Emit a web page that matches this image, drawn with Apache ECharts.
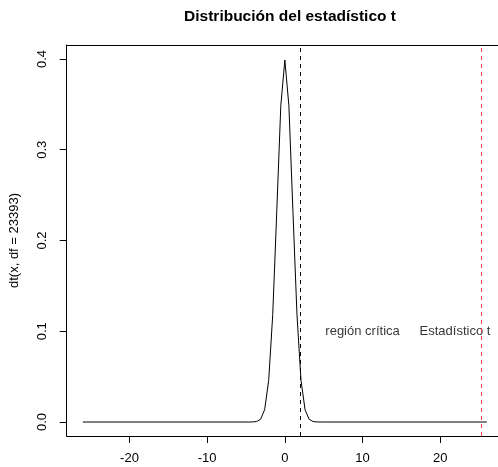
<!DOCTYPE html>
<html><head><meta charset="utf-8">
<script src="https://cdn.jsdelivr.net/npm/echarts@6/dist/echarts.min.js"></script>
<style>html,body{margin:0;padding:0;background:#fff}#c{width:498px;height:467px}</style>
</head><body><div id="c"></div>
<script>
// Curve points (x, density)
const curveX = [-26, -4.68, -4.16, -3.64, -3.12, -2.6, -2.08, -1.56, -1.04, -0.52, 0, 0.52, 1.04, 1.56, 2.08, 2.6, 3.12, 3.64, 4.16, 4.68, 26];
const curveY = [0, 0, 0.0001, 0.0005, 0.0031, 0.0136, 0.0459, 0.1182, 0.2323, 0.3485, 0.3989, 0.3485, 0.2323, 0.1182, 0.0459, 0.0136, 0.0031, 0.0005, 0.0001, 0, 0];
const xTicks = [-20, -10, 0, 10, 20];
const yTicks = [0, 0.1, 0.2, 0.3, 0.4];
const criticalValue = 1.96;
const statValue = 25.34;
const annotTexts = ['región crítica', 'Estadístico t'];
const annotX = [10, 21.9];
const annotY = [0.1, 0.1];

const FONT = 'Liberation Sans, Arial, Helvetica, sans-serif';
const XMIN = -28.08, XMAX = 28.08;
const chart = echarts.init(document.getElementById('c'), null, {renderer: 'canvas'});
chart.setOption({
  animation: false,
  backgroundColor: '#fff',
  title: {
    text: 'Distribución del estadístico t',
    left: 285, top: 4, textAlign: 'center',
    textStyle: {fontFamily: FONT, fontSize: 15.5, fontWeight: 'bold', color: '#000'}
  },
  grid: {left: 66.7, right: -5, top: 45, bottom: 31, outerBoundsMode: 'none', containLabel: false, show: false},
  xAxis: [{
    type: 'value', min: XMIN, max: XMAX, position: 'bottom',
    splitLine: {show: false},
    axisLine: {show: true, onZero: false, lineStyle: {color: '#000', width: 1}},
    axisTick: {show: true, length: 7, customValues: xTicks, lineStyle: {color: '#000'}},
    axisLabel: {customValues: xTicks, margin: 16, fontFamily: FONT, fontSize: 13, color: '#000'}
  }, {
    type: 'value', min: XMIN, max: XMAX, position: 'top',
    splitLine: {show: false},
    axisLine: {show: true, onZero: false, lineStyle: {color: '#000', width: 1}},
    axisTick: {show: false}, axisLabel: {show: false}
  }],
  yAxis: {
    type: 'value', min: -0.0154, max: 0.4154,
    name: 'dt(x, df = 23393)', nameLocation: 'middle', nameGap: 46,
    nameTextStyle: {fontFamily: FONT, fontSize: 13, color: '#000'},
    splitLine: {show: false},
    axisLine: {show: true, onZero: false, lineStyle: {color: '#000', width: 1}},
    axisTick: {show: true, length: 7, customValues: yTicks, lineStyle: {color: '#000'}},
    axisLabel: {customValues: yTicks, rotate: 90, margin: 18, fontFamily: FONT, fontSize: 13, color: '#000',
      formatter: v => v.toFixed(1)}
  },
  series: [
    {
      type: 'line', xAxisIndex: 0, data: curveX.map((x, i) => [x, curveY[i]]),
      showSymbol: false, symbol: 'none', lineStyle: {color: '#000', width: 1}, silent: true,
      markLine: {
        silent: true, symbol: 'none', label: {show: false},
        data: [
          {xAxis: criticalValue, lineStyle: {color: '#000', type: [4, 4], width: 1}},
          {xAxis: statValue, lineStyle: {color: '#f04050', type: [4, 4], width: 1}}
        ]
      }
    },
    {
      type: 'scatter', xAxisIndex: 0, symbolSize: 0, silent: true,
      data: annotX.map((x, i) => ({value: [x, annotY[i]], name: annotTexts[i]})),
      label: {show: true, position: 'inside', formatter: p => p.name, fontFamily: FONT, fontSize: 13, color: '#000'}
    }
  ]
});
</script></body></html>
